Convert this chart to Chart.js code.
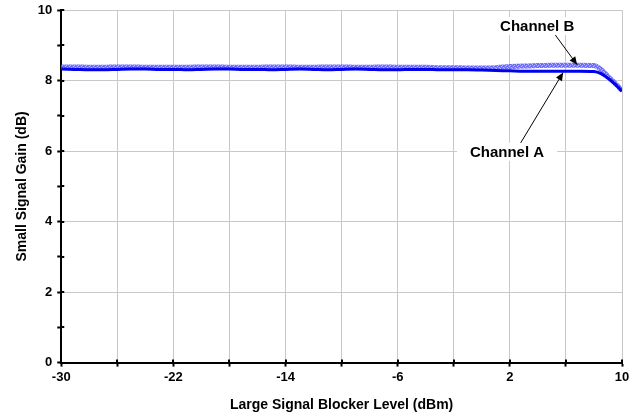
<!DOCTYPE html>
<html>
<head>
<meta charset="utf-8">
<script src="https://cdn.jsdelivr.net/npm/chart.js@4/dist/chart.umd.min.js"></script>
<style>
  body { margin: 0; background: #fff; }
  #wrap { width: 644px; height: 417px; }
</style>
</head>
<body>
<div id="wrap"><canvas id="gainChart" width="644" height="417"></canvas></div>
<script>
/* -------- DATA -------- */
const blockerLevel = [-30,-29,-28,-27,-26,-25,-24,-23,-22,-21,-20,-19,-18,-17,-16,-15,-14,-13,-12,-11,-10,
  -9,-8,-7,-6,-5,-4,-3,-2,-1,0,1,2,3,4,5,6,7,8,8.5,9,9.5,10];

const gainA = [8.33,8.32,8.31,8.31,8.32,8.33,8.33,8.32,8.32,8.31,8.32,8.33,8.33,8.32,8.32,8.31,8.32,8.33,8.32,8.31,8.32,
  8.33,8.32,8.31,8.31,8.32,8.32,8.31,8.31,8.31,8.30,8.29,8.28,8.27,8.27,8.27,8.27,8.27,8.26,8.20,8.07,7.90,7.70];

const gainB = [8.39,8.39,8.38,8.38,8.39,8.39,8.38,8.38,8.38,8.38,8.39,8.39,8.38,8.38,8.38,8.39,8.39,8.38,8.38,8.39,8.39,
  8.38,8.38,8.39,8.38,8.38,8.38,8.37,8.37,8.36,8.36,8.37,8.40,8.42,8.43,8.44,8.44,8.44,8.43,8.32,8.12,7.93,7.72];

const xTickLabels = [-30,-22,-14,-6,2,10];
const yTickLabels = [0,2,4,6,8,10];

// annotation anchors in data units: text position, arrow tail, arrow head
const labelB = { text: "Channel B", at: [3.95, 9.55], from: [5.2, 9.32], to: [6.8, 8.45] };
const labelA = { text: "Channel A", at: [1.8, 5.98], from: [2.75, 6.22], to: [5.8, 8.23] };

/* -------- STYLE HELPERS -------- */
function speckle(){
  const c = document.createElement("canvas");
  c.width = 4; c.height = 4;
  const g = c.getContext("2d");
  g.fillStyle = "rgb(115,115,255)";
  g.fillRect(0,0,4,4);
  g.fillStyle = "rgb(185,185,255)";
  g.fillRect(0,0,1,1); g.fillRect(2,1,1,1); g.fillRect(1,2,1,1); g.fillRect(3,3,1,1);
  g.fillStyle = "rgb(90,90,250)";
  g.fillRect(1,0,1,1); g.fillRect(3,2,1,1);
  return g.createPattern(c, "repeat");
}

const FONT = "'Liberation Sans', Arial, sans-serif";

/* -------- ANNOTATIONS -------- */
const calloutPlugin = {
  id: "callouts",
  afterDatasetsDraw(chart){
    const ctx = chart.ctx, xs = chart.scales.x, ys = chart.scales.y;
    const px = p => [xs.getPixelForValue(p[0]), ys.getPixelForValue(p[1])];

    [labelB, labelA].forEach(l => {
      const [x0,y0] = px(l.from), [x1,y1] = px(l.to);
      ctx.save();
      ctx.strokeStyle = "#000"; ctx.fillStyle = "#000"; ctx.lineWidth = 1;
      ctx.beginPath(); ctx.moveTo(x0,y0); ctx.lineTo(x1,y1); ctx.stroke();
      const ang = Math.atan2(y1-y0, x1-x0), len = 8, w = 3.5;
      ctx.beginPath();
      ctx.moveTo(x1,y1);
      ctx.lineTo(x1 - len*Math.cos(ang) + w*Math.sin(ang), y1 - len*Math.sin(ang) - w*Math.cos(ang));
      ctx.lineTo(x1 - len*Math.cos(ang) - w*Math.sin(ang), y1 - len*Math.sin(ang) + w*Math.cos(ang));
      ctx.closePath(); ctx.fill();

      const [tx,ty] = px(l.at);
      ctx.font = "bold 15px " + FONT;
      const tw = ctx.measureText(l.text).width;
      ctx.fillStyle = "#fff";
      ctx.fillRect(tx - tw/2 - 13, ty - 9, tw + 26, 18);
      ctx.fillStyle = "#000";
      ctx.textAlign = "center"; ctx.textBaseline = "middle";
      ctx.fillText(l.text, tx, ty + 1);
      ctx.restore();
    });
  },
  afterDraw(chart){
    // tick marks also poke a little inside the plot, as in the source
    const ctx = chart.ctx, xs = chart.scales.x, ys = chart.scales.y;
    ctx.save();
    ctx.strokeStyle = "#000"; ctx.lineWidth = 2;
    ctx.beginPath();
    ys.ticks.forEach(t => {
      const y = Math.round(ys.getPixelForValue(t.value));
      ctx.moveTo(xs.left, y); ctx.lineTo(xs.left + 3, y);
    });
    xs.ticks.forEach(t => {
      const x = Math.round(xs.getPixelForValue(t.value));
      ctx.moveTo(x, ys.bottom); ctx.lineTo(x, ys.bottom - 3);
    });
    ctx.stroke();
    ctx.restore();
  }
};

/* -------- CHART -------- */
const ptsA = blockerLevel.map((x,i) => ({ x: x, y: gainA[i] }));
const ptsB = blockerLevel.map((x,i) => ({ x: x, y: gainB[i] }));

new Chart(document.getElementById("gainChart"), {
  type: "line",
  data: {
    datasets: [{
      label: "Channel A",
      data: ptsA,
      borderColor: "rgb(0,0,235)",
      borderWidth: 3,
      pointRadius: 0,
      cubicInterpolationMode: "monotone"
    }, {
      label: "Channel B",
      data: ptsB,
      borderColor: speckle(),
      borderWidth: 5,
      pointRadius: 0,
      cubicInterpolationMode: "monotone"
    }]
  },
  options: {
    responsive: false,
    animation: false,
    layout: { padding: { left: 10, right: 22, top: 1, bottom: 3 } },
    plugins: { legend: { display: false }, tooltip: { enabled: false } },
    scales: {
      x: {
        type: "linear", min: -30, max: 10,
        ticks: {
          stepSize: 4, autoSkip: false, maxRotation: 0, color: "#000", padding: 3,
          font: { family: FONT, size: 13, weight: "bold" },
          callback: v => xTickLabels.includes(v) ? String(v) : ""
        },
        grid: { color: "#c8c8c8", lineWidth: 1, tickLength: 4, tickColor: "#000", tickWidth: 2 },
        border: { color: "#000", width: 2 },
        title: { display: true, text: "Large Signal Blocker Level (dBm)", color: "#000",
                 font: { family: FONT, size: 14, weight: "bold" }, padding: { top: 9, bottom: 0 } }
      },
      y: {
        min: 0, max: 10,
        ticks: {
          stepSize: 1, autoSkip: false, color: "#000", padding: 5,
          font: { family: FONT, size: 13, weight: "bold", lineHeight: 0.8 },
          callback: v => yTickLabels.includes(v) ? String(v) : ""
        },
        grid: {
          color: c => (c.tick && c.tick.value % 2 === 0) ? "#c8c8c8" : "rgba(0,0,0,0)",
          lineWidth: 1, tickLength: 4, tickColor: "#000", tickWidth: 2
        },
        border: { color: "#000", width: 2 },
        title: { display: true, text: "Small Signal Gain (dB)", color: "#000",
                 font: { family: FONT, size: 14, weight: "bold" }, padding: { bottom: 2 } }
      }
    }
  },
  plugins: [calloutPlugin]
});
</script>
</body>
</html>
